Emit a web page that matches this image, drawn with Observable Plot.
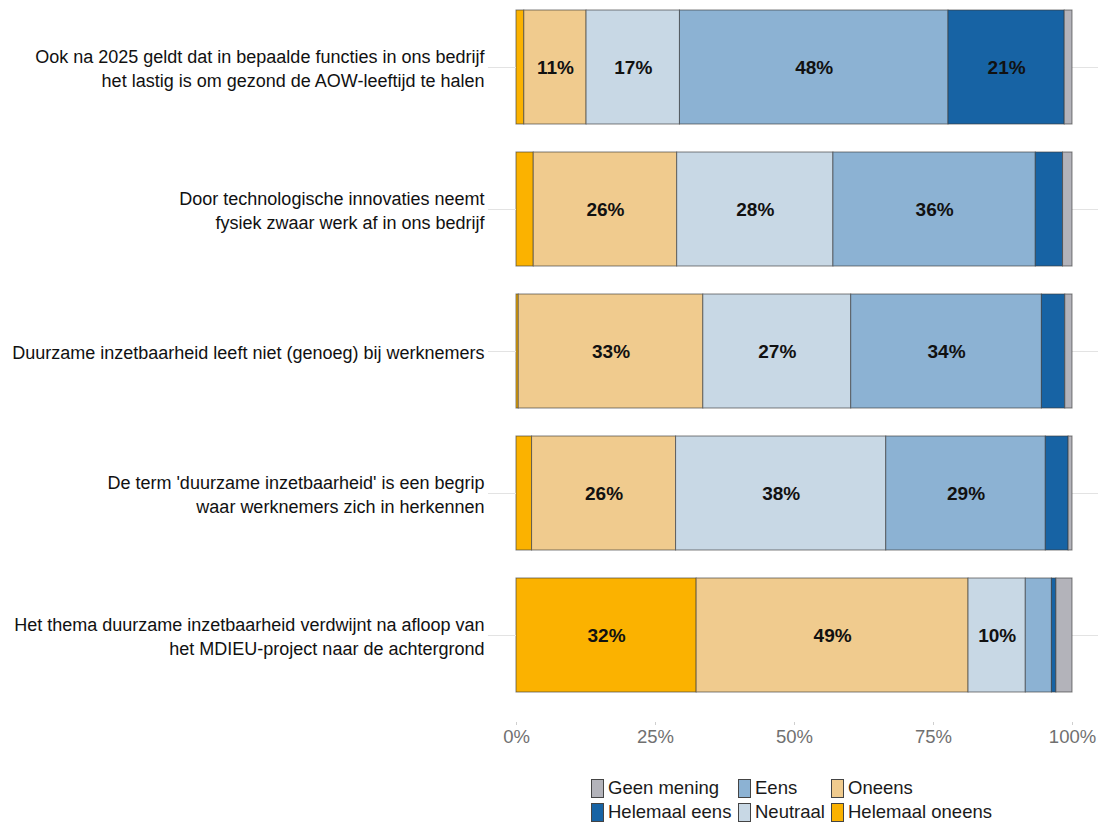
<!DOCTYPE html>
<html>
<head>
<meta charset="utf-8">
<script src="https://cdn.jsdelivr.net/npm/d3@7"></script>
<script src="https://cdn.jsdelivr.net/npm/@observablehq/plot@0.6"></script>
<style>
  html, body { margin: 0; padding: 0; background: #fff; }
  #wrap { position: relative; width: 1098px; height: 828px; overflow: hidden; }
  #legend {
    position: absolute; left: 591px; top: 776px;
    display: grid; grid-template-columns: 147px 93px auto; grid-template-rows: 24px 24px;
    grid-auto-flow: column;
    font-family: "Liberation Sans", Arial, sans-serif; font-size: 18.5px; color: #1a1a1a;
  }
  .item { display: flex; align-items: center; white-space: nowrap; }
  .sw { width: 13px; height: 19px; box-sizing: border-box; border: 1px solid #444; margin-right: 4px; }
</style>
</head>
<body>
<div id="wrap"><div id="chart"></div><div id="legend"></div></div>
<script>
const statements = [
  "Ook na 2025 geldt dat in bepaalde functies in ons bedrijf\nhet lastig is om gezond de AOW-leeftijd te halen",
  "Door technologische innovaties neemt\nfysiek zwaar werk af in ons bedrijf",
  "Duurzame inzetbaarheid leeft niet (genoeg) bij werknemers",
  "De term 'duurzame inzetbaarheid' is een begrip\nwaar werknemers zich in herkennen",
  "Het thema duurzame inzetbaarheid verdwijnt na afloop van\nhet MDIEU-project naar de achtergrond"
];
const responses = ["Helemaal oneens", "Oneens", "Neutraal", "Eens", "Helemaal eens", "Geen mening"];
const colors = ["#FBB200", "#F0CB8E", "#C8D8E5", "#8CB2D3", "#1763A4", "#B3B3BA"];
const helemaalOneens = [1.4, 3.1, 0.4, 2.8, 32.4];
const oneens = [11.2, 25.8, 33.2, 25.9, 48.9];
const neutraal = [16.8, 28.1, 26.6, 37.8, 10.3];
const eens = [48.3, 36.4, 34.3, 28.7, 4.7];
const helemaalEens = [20.9, 4.9, 4.2, 4.1, 0.8];
const geenMening = [1.4, 1.7, 1.3, 0.7, 2.9];
const legendOrder = ["Geen mening", "Helemaal eens", "Eens", "Neutraal", "Oneens", "Helemaal oneens"];
const xTicks = [0, 25, 50, 75, 100];

const series = [helemaalOneens, oneens, neutraal, eens, helemaalEens, geenMening];
const data = [];
statements.forEach((s, i) => {
  responses.forEach((r, j) => data.push({statement: s, response: r, value: series[j][i]}));
});

const chart = Plot.plot({
  width: 1098,
  height: 765,
  marginLeft: 516,
  marginRight: 0,
  marginTop: 3,
  marginBottom: 43,
  insetRight: 26,
  insetBottom: 23,
  x: {domain: [0, 100]},
  y: {domain: statements, paddingInner: 0.2, paddingOuter: 0.05},
  color: {domain: responses, range: colors},
  style: {fontFamily: "'Liberation Sans', Arial, sans-serif", background: "white"},
  marks: [
    Plot.gridY({stroke: "#e3e3e3", strokeOpacity: 1}),
    Plot.barX(data, Plot.stackX({
      x: "value", y: "statement", fill: "response", order: responses,
      stroke: "#3a3a3a", strokeWidth: 1, strokeOpacity: 0.65
    })),
    Plot.text(data, Plot.stackX({
      x: "value", y: "statement", z: "response", order: responses,
      text: d => d.value >= 10 ? Math.round(d.value) + "%" : null,
      fontSize: 19, fontWeight: "bold", fill: "#111",
      fontFamily: "'Liberation Sans', Arial, sans-serif"
    })),
    Plot.axisX({
      ticks: xTicks, tickFormat: d => d + "%", tickSize: 3, tickPadding: 4,
      fontSize: 18.5, stroke: "#cfcfcf", fill: "#707070", label: null
    }),
    Plot.axisY({
      tickSize: 28, tickPadding: 4, fontSize: 18, lineHeight: 1.33,
      stroke: "#e3e3e3", fill: "#111", label: null
    })
  ]
});
document.getElementById("chart").appendChild(chart);

const legend = document.getElementById("legend");
legendOrder.forEach(r => {
  const it = document.createElement("div");
  it.className = "item";
  const sw = document.createElement("span");
  sw.className = "sw";
  sw.style.background = colors[responses.indexOf(r)];
  const t = document.createElement("span");
  t.textContent = r;
  it.appendChild(sw); it.appendChild(t);
  legend.appendChild(it);
});
</script>
</body>
</html>
